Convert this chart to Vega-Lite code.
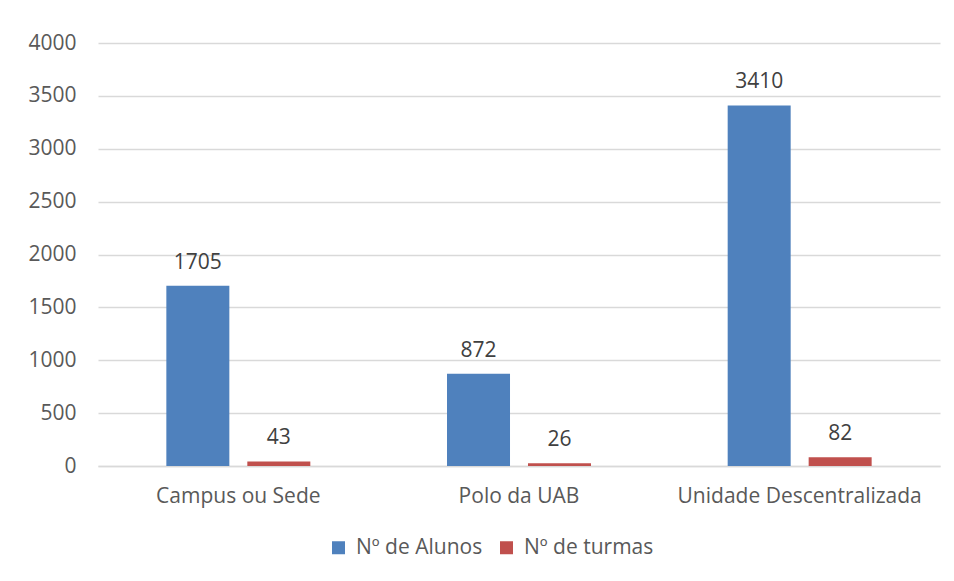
{
  "$schema": "https://vega.github.io/schema/vega-lite/v6.json",
  "autosize": {"type": "none"},
  "width": 842,
  "height": 423,
  "padding": {"left": 98, "top": 43, "right": 14, "bottom": 115},
  "background": "white",
  "config": {
    "font": "Open Sans",
    "view": {"stroke": null},
    "axis": {"labelFont": "Open Sans", "labelColor": "#595959", "labelFontSize": 21, "labelLimit": 0},
    "legend": {"labelFont": "Open Sans", "labelColor": "#595959", "labelFontSize": 21, "labelLimit": 0}
  },
  "data": {
    "values": [
      {"local": "Campus ou Sede", "serie": "Nº de Alunos", "valor": 1705},
      {"local": "Campus ou Sede", "serie": "Nº de turmas", "valor": 43},
      {"local": "Polo da UAB", "serie": "Nº de Alunos", "valor": 872},
      {"local": "Polo da UAB", "serie": "Nº de turmas", "valor": 26},
      {"local": "Unidade Descentralizada", "serie": "Nº de Alunos", "valor": 3410},
      {"local": "Unidade Descentralizada", "serie": "Nº de turmas", "valor": 82}
    ]
  },
  "encoding": {
    "x": {
      "field": "local", "type": "nominal", "sort": null, "title": null,
      "scale": {"paddingInner": 0, "paddingOuter": 0},
      "axis": {"labelAngle": 0, "ticks": false, "domain": true, "domainColor": "#D9D9D9", "domainWidth": 1.5, "labelPadding": 19}
    },
    "xOffset": {
      "field": "serie", "type": "nominal", "sort": null,
      "scale": {"paddingInner": 0.222, "paddingOuter": 0.844}
    },
    "y": {
      "field": "valor", "type": "quantitative", "title": null,
      "scale": {"domain": [0, 4000], "nice": false},
      "axis": {"values": [0, 500, 1000, 1500, 2000, 2500, 3000, 3500, 4000], "format": "d", "ticks": false, "domain": false, "gridColor": "#D9D9D9", "gridWidth": 1.5, "labelPadding": 22}
    }
  },
  "layer": [
    {
      "mark": {"type": "bar"},
      "encoding": {
        "color": {
          "field": "serie", "type": "nominal", "sort": null, "title": null,
          "scale": {"domain": ["Nº de Alunos", "Nº de turmas"], "range": ["#4F81BD", "#C0504D"]},
          "legend": {
            "orient": "none", "direction": "horizontal", "legendX": 230, "legendY": 494,
            "symbolType": "square", "symbolSize": 169, "symbolStrokeWidth": 0, "symbolOpacity": 1,
            "columnPadding": 13, "labelOffset": 7
          }
        }
      }
    },
    {
      "mark": {"type": "text", "baseline": "alphabetic", "dy": -17, "fontSize": 21, "color": "#404040", "font": "Open Sans"},
      "encoding": {"text": {"field": "valor", "type": "quantitative", "format": "d"}}
    }
  ]
}
